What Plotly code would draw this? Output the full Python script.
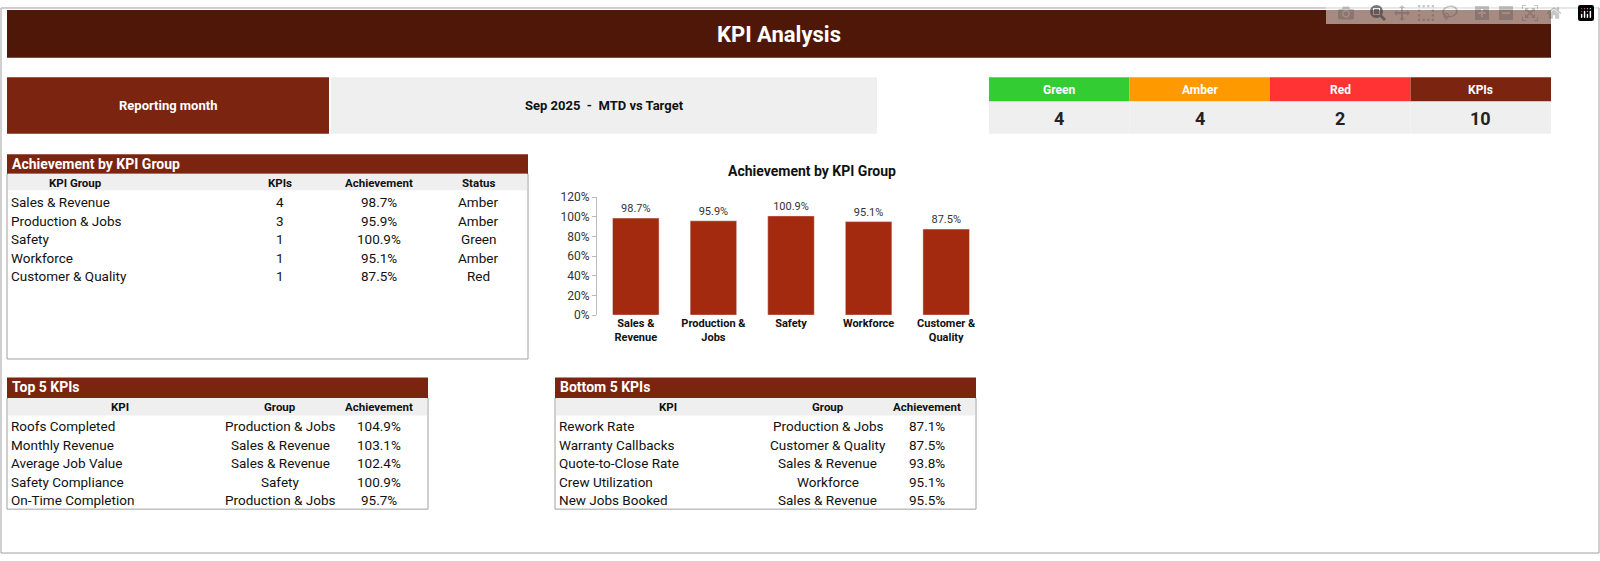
import plotly.graph_objects as go

W, H = 1600, 561

# data
groups = ["Sales & Revenue", "Production & Jobs", "Safety", "Workforce", "Customer & Quality"]
group_labels = ["Sales &<br>Revenue", "Production &<br>Jobs", "Safety", "Workforce", "Customer &<br>Quality"]
group_kpis = [4, 3, 1, 1, 1]
group_ach = [0.987, 0.959, 1.009, 0.951, 0.875]
group_status = ["Amber", "Amber", "Green", "Amber", "Red"]

top_kpis = ["Roofs Completed", "Monthly Revenue", "Average Job Value", "Safety Compliance", "On-Time Completion"]
top_groups = ["Production & Jobs", "Sales & Revenue", "Sales & Revenue", "Safety", "Production & Jobs"]
top_ach = [1.049, 1.031, 1.024, 1.009, 0.957]

bottom_kpis = ["Rework Rate", "Warranty Callbacks", "Quote-to-Close Rate", "Crew Utilization", "New Jobs Booked"]
bottom_groups = ["Production & Jobs", "Customer & Quality", "Sales & Revenue", "Workforce", "Sales & Revenue"]
bottom_ach = [0.871, 0.875, 0.938, 0.951, 0.955]

status_names = ["Green", "Amber", "Red", "KPIs"]
status_counts = [4, 4, 2, 10]
status_colors = ["#33CC33", "#FF9900", "#FF3333", "#7B2410"]

DARK = "#4E1707"
BROWN = "#7B2410"
BAR = "#A3290F"
GREY = "#EFEFEF"
FONT = "Roboto"

def px(x):
    return x / W

def py(y):
    return 1 - y / H

shapes = []
annots = []

def box(x0, y0, x1, y1, fill=None, line=None):
    shapes.append(dict(type="rect", xref="paper", yref="paper",
                       x0=px(x0), x1=px(x1), y0=py(y1), y1=py(y0),
                       fillcolor=fill or "rgba(0,0,0,0)",
                       line=dict(color=line or "rgba(0,0,0,0)", width=1 if line else 0),
                       layer="below"))

def text(x, y, s, size=13, color="#111", bold=False, align="center"):
    annots.append(dict(xref="paper", yref="paper", x=px(x), y=py(y),
                       text=f"<b>{s}</b>" if bold else s, showarrow=False,
                       xanchor=align, yanchor="middle",
                       font=dict(family=FONT, size=size, color=color)))

# outer frame and title
box(1, 1, 1599, 560, line="#A0A0A0")
box(7, 3, 1551, 52, fill=DARK)
text(779, 28, "KPI Analysis", size=22, color="white", bold=True)

# reporting month
box(7, 72, 329, 130, fill=BROWN)
text(168, 101, "Reporting month", size=13, color="white", bold=True)
box(331, 72, 877, 130, fill=GREY)
text(604, 101, "Sep 2025  -  MTD vs Target", size=13, bold=True)

# status counts
for i, (name, cnt, col) in enumerate(zip(status_names, status_counts, status_colors)):
    x0 = 989 + i * 140.5
    box(x0, 72, x0 + 140.5, 97, fill=col)
    text(x0 + 70, 85, name, size=12, color="white", bold=True)
    box(x0, 97, x0 + 140.5, 130, fill=GREY)
    text(x0 + 70, 114, str(cnt), size=18, color="#222", bold=True)

# achievement table
box(7, 171, 528, 361, line="#A0A0A0")
box(7, 151, 528, 171, fill=BROWN)
text(10, 161, "Achievement by KPI Group", size=14, color="white", bold=True, align="left")
box(8, 171, 527, 188, fill=GREY)
for x, h in zip([75, 280, 379, 478], ["KPI Group", "KPIs", "Achievement", "Status"]):
    text(x, 180, h, size=11.5, bold=True)
for i, (g, k, a, s) in enumerate(zip(groups, group_kpis, group_ach, group_status)):
    y = 200 + i * 19
    text(9, y, g, size=13.5, align="left")
    text(280, y, str(k), size=13.5)
    text(379, y, f"{a:.1%}", size=13.5)
    text(478, y, s, size=13.5)

# top / bottom tables
def kpi_table(x0, title, kpis, grps, ach):
    box(x0, 401, x0 + 421, 515, line="#A0A0A0")
    box(x0, 380, x0 + 421, 401, fill=BROWN)
    text(x0 + 3, 390, title, size=14, color="white", bold=True, align="left")
    box(x0 + 1, 401, x0 + 420, 419, fill=GREY)
    for dx, h in zip([113, 273, 372], ["KPI", "Group", "Achievement"]):
        text(x0 + dx, 410, h, size=11.5, bold=True)
    for i, (k, g, a) in enumerate(zip(kpis, grps, ach)):
        y = 430 + i * 19
        text(x0 + 2, y, k, size=13.5, align="left")
        text(x0 + 273, y, g, size=13.5)
        text(x0 + 372, y, f"{a:.1%}", size=13.5)

kpi_table(7, "Top 5 KPIs", top_kpis, top_groups, top_ach)
kpi_table(555, "Bottom 5 KPIs", bottom_kpis, bottom_groups, bottom_ach)

# bar chart
text(812, 168, "Achievement by KPI Group", size=14, bold=True)

fig = go.Figure(go.Bar(
    x=group_labels, y=group_ach, marker_color=BAR, width=0.6,
    text=[f"{a:.1%}" for a in group_ach], textposition="outside",
    textfont=dict(family=FONT, size=11, color="#333"), cliponaxis=False,
))

fig.update_layout(
    autosize=True, margin=dict(l=0, r=0, t=0, b=0),
    paper_bgcolor="white", plot_bgcolor="white", showlegend=False,
    shapes=shapes, annotations=annots,
    font=dict(family=FONT),
    xaxis=dict(domain=[px(597), px(985)], showgrid=False, showline=False,
               tickfont=dict(family=FONT, size=11, color="#111"), ticks=""),
    yaxis=dict(domain=[py(316), py(195)], range=[0, 1.2], dtick=0.2, tickformat=".0%",
               showgrid=False, showline=True, linecolor="#BBBBBB", ticks="outside",
               ticklen=4, tickcolor="#BBBBBB", tickfont=dict(family=FONT, size=12, color="#333"),
               zeroline=False),
)
fig.update_xaxes(tickprefix="<b>", ticksuffix="</b>")

fig.write_html(
    "out.html",
    default_width="100vw", default_height="100vh",
    post_script="document.body.style.margin='0';document.body.style.overflow='hidden';"
                "Plotly.Plots.resize(document.getElementById('{plot_id}'));",
)
